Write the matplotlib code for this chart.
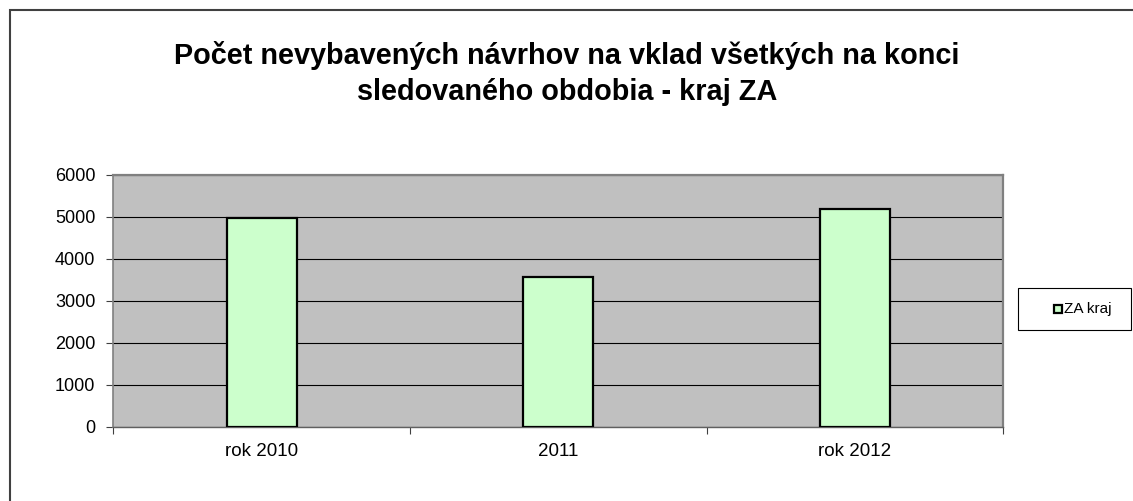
import matplotlib
matplotlib.use("Agg")
import matplotlib.pyplot as plt
from matplotlib.patches import Rectangle
from matplotlib.lines import Line2D

categories = ["rok 2010", "2011", "rok 2012"]
values = [4980, 3575, 5185]
series_name = "ZA kraj"
yticks = [0, 1000, 2000, 3000, 4000, 5000, 6000]
title = "Počet nevybavených návrhov na vklad všetkých na konci\nsledovaného obdobia - kraj ZA"

plt.rcParams['font.family'] = ['Liberation Sans', 'DejaVu Sans']

W, H = 1133, 501
fig = plt.figure(figsize=(W / 100, H / 100), dpi=100)
fig.patch.set_facecolor("white")

# outer chart border
fig.add_artist(Rectangle((10 / W, -0.1), 1.2, 1 - 9.5 / H + 0.1, transform=fig.transFigure,
                         fill=False, edgecolor="#404040", linewidth=1.5))

ax = fig.add_axes([113.3 / W, 1 - 426.7 / H, 890 / W, (426.7 - 174.7) / H])
ax.set_facecolor("#C0C0C0")
x = list(range(len(categories)))
ax.bar(x, values, width=0.236, color="#CCFFCC", edgecolor="black", linewidth=1.6, zorder=3)
ax.set_xlim(-0.5, len(categories) - 0.5)
ax.set_ylim(0, 6000)
ax.set_yticks(yticks)
ax.set_yticklabels([str(v) for v in yticks], fontsize=13)
ax.yaxis.grid(True, color="black", linewidth=0.8, zorder=1)
ax.set_axisbelow(True)

ax.set_xticks(x)
ax.set_xticklabels(categories, fontsize=13.5)
ax.tick_params(axis="x", which="major", length=0, pad=12)
ax.set_xticks([i - 0.5 for i in range(len(categories) + 1)], minor=True)
ax.tick_params(axis="x", which="minor", length=5, width=0.8, color="#404040", direction="out")
ax.tick_params(axis="y", length=5, width=0.8, color="#404040", direction="out", pad=8)

for side in ["top", "right"]:
    ax.spines[side].set_color("#808080")
    ax.spines[side].set_linewidth(1.6)
ax.spines["left"].set_color("#808080")
ax.spines["left"].set_linewidth(1.2)
ax.spines["bottom"].set_color("#606060")
ax.spines["bottom"].set_linewidth(1.0)

fig.text(567 / W, 1 - 73.5 / H, title, ha="center", va="center", fontsize=20.8,
         fontweight="bold", linespacing=1.38)

# legend box
fig.add_artist(Rectangle((1018 / W, 1 - 330 / H), (1131 - 1018) / W, 42 / H,
                         transform=fig.transFigure, facecolor="white", edgecolor="black", linewidth=0.8))
fig.add_artist(Line2D([1057.5 / W], [1 - 309 / H], marker="s", markersize=6,
                      markerfacecolor="#CCFFCC", markeredgecolor="black", markeredgewidth=1.6,
                      linestyle="none", transform=fig.transFigure))
fig.text(1064 / W, 1 - 309 / H, series_name, ha="left", va="center", fontsize=11)

fig.savefig("out.png", dpi=100)
